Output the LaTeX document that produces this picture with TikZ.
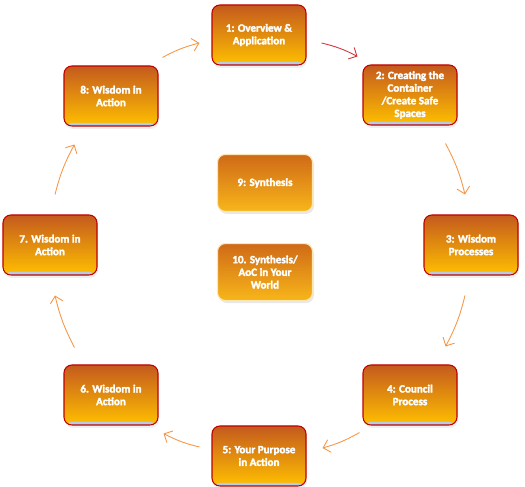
\documentclass[tikz,border=0pt]{standalone}
\usepackage{fontspec}
\setmainfont{Carlito}[BoldFont={Carlito Bold}, BoldFeatures={FakeBold=2.5}]
\definecolor{StageTop}{HTML}{C45A1E}
\definecolor{StageBottom}{HTML}{FFC000}
\definecolor{StageEdge}{HTML}{C00000}
\definecolor{CoreTop}{HTML}{CF6A18}
\definecolor{CoreBottom}{HTML}{F8B619}
\definecolor{CoreEdge}{HTML}{FCE6B4}
\definecolor{GlossBlue}{HTML}{B7CBE5}
\definecolor{FlowOrange}{HTML}{F79646}
\definecolor{FlowRed}{HTML}{D0343C}
\usetikzlibrary{arrows.meta, positioning, shadows}

\begin{document}
\begin{tikzpicture}[
      stage/.style={draw=StageEdge, line width=0.6pt, rounded corners=4.5pt,
        top color=StageTop, bottom color=StageBottom,
        minimum width=1.88cm, minimum height=1.2cm, align=center,
        text=white, font=\bfseries\fontsize{6.3}{7.2}\selectfont,
        drop shadow={shadow xshift=0.02cm, shadow yshift=-0.06cm, opacity=0.12},
        path picture={\fill[GlossBlue] (path picture bounding box.south west)
          rectangle ([yshift=0.06cm]path picture bounding box.south east);}},
      core/.style={draw=CoreEdge, line width=0.6pt, rounded corners=4.5pt,
        top color=CoreTop, middle color=CoreTop, bottom color=CoreBottom,
        minimum width=1.9cm, minimum height=1.14cm, align=center,
        text=white, font=\bfseries\fontsize{6.3}{7.2}\selectfont,
        drop shadow={shadow xshift=0.03cm, shadow yshift=-0.05cm, opacity=0.18}},
      flow/.style={-{Straight Barb[length=1.3mm, width=2.6mm]}, line width=0.5pt, FlowOrange},
      flowhot/.style={flow, FlowRed}
    ]
      \useasboundingbox (0,0) rectangle (10.5,9.74);
      % outer ring of stages
      \node[stage] (n1) at (5.18,9.04) {1: Overview \&\\Application};
      \node[stage] (n2) at (8.20,7.84) {2: Creating the\\Container\\/Create Safe\\Spaces};
      \node[stage] (n3) at (9.42,4.84) {3: Wisdom\\Processes};
      \node[stage] (n4) at (8.20,1.84) {4: Council\\Process};
      \node[stage] (n5) at (5.18,0.62) {5: Your Purpose\\in Action};
      \node[stage] (n6) at (2.22,1.84) {6. Wisdom in\\Action};
      \node[stage] (n7) at (1.00,4.84) {7. Wisdom in\\Action};
      \node[stage] (n8) at (2.22,7.82) {8: Wisdom in\\Action};
      % centre
      \node[core] (n9) at (5.30,6.08) {9: Synthesis};
      \node[core, below=0.62cm of n9] (n10) {10. Synthesis/\\AoC in Your\\World};
      % arrows round the ring
      \draw[flow] ([shift={(0.08,0.16)}]n8.north east) to[bend left=7] ([shift={(-0.24,-0.16)}]n1.west);
      \draw[flowhot] ([shift={(0.30,-0.16)}]n1.east) to[bend left=7] ([shift={(-0.10,0.16)}]n2.north west);
      \draw[flow] ([shift={(-0.24,-0.36)}]n2.south east) to[bend left=7] ([shift={(-0.12,0.40)}]n3.north);
      \draw[flow] ([shift={(-0.12,-0.40)}]n3.south) to[bend left=7] ([shift={(-0.24,0.36)}]n4.north east);
      \draw[flow] ([shift={(-0.06,-0.14)}]n4.south west) to[bend left=7] ([shift={(0.32,0.16)}]n5.east);
      \draw[flow] ([shift={(-0.24,0.18)}]n5.west) to[bend left=7] ([shift={(0.10,-0.16)}]n6.south east);
      \draw[flow] ([shift={(0.22,0.34)}]n6.north west) to[bend left=7] ([shift={(0.10,-0.40)}]n7.south);
      \draw[flow] ([shift={(0.10,0.40)}]n7.north) to[bend left=7] ([shift={(0.22,-0.36)}]n8.south west);
    \end{tikzpicture}
\end{document}
